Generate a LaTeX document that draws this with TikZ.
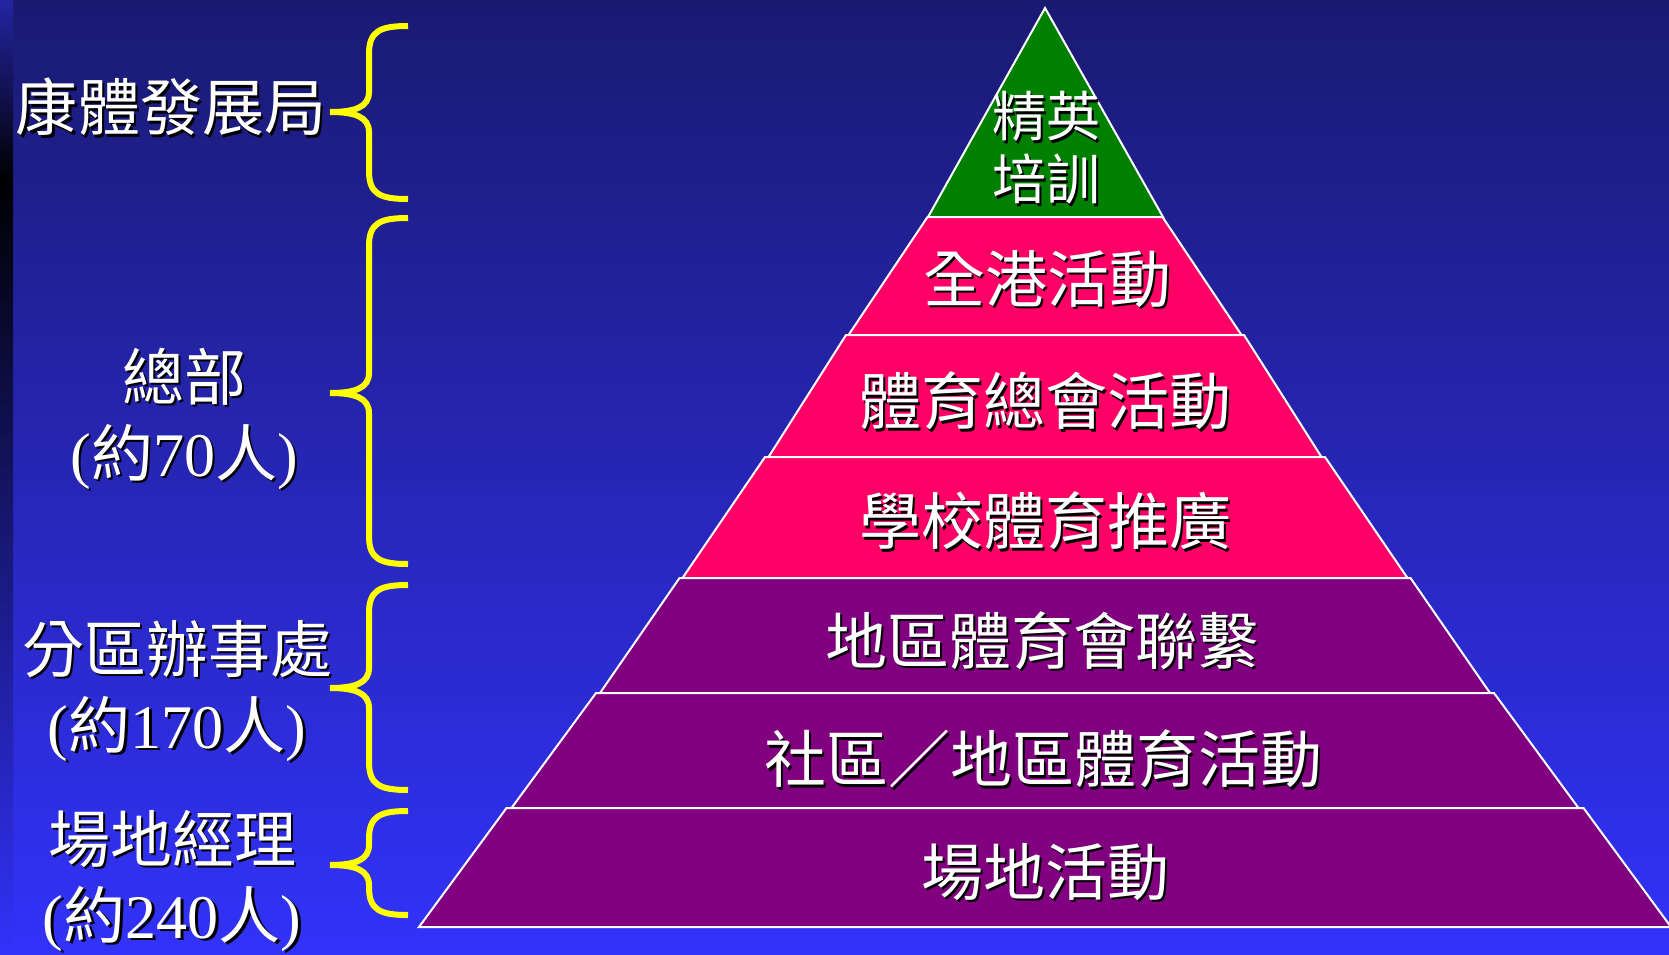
\documentclass[tikz,border=0pt]{standalone}
\usepackage{fontspec}
\setmainfont{Liberation Serif}
\newfontfamily\cjk{Noto Sans CJK TC}

\definecolor{bgtop}{HTML}{1A1A72}
\definecolor{bgbottom}{HTML}{3232FA}
\definecolor{stripblue}{HTML}{2424A4}
\definecolor{elitegreen}{HTML}{008000}
\definecolor{hotpink}{HTML}{FF0066}
\definecolor{deeppurple}{HTML}{800080}
\definecolor{braceyellow}{HTML}{FFFF00}

\newcommand{\sh}[1]{\makebox[0pt][l]{\hspace{2.5pt}\raisebox{-2.5pt}{\color{black}#1}}#1}
\newcommand{\zh}[1]{{\cjk #1}}

\tikzset{
  layer/.style={draw=white, line width=2pt},
  lbl/.style={text=white, inner sep=0pt, align=center, font=\cjk\fontsize{62}{76}\selectfont},
  side/.style={text=white, inner sep=0pt, align=center, font=\fontsize{62}{76}\selectfont},
  brace line/.style={draw=braceyellow, line width=6pt}
}

% top, tip, bottom
\newcommand{\ybrace}[3]{%
  \draw[brace line] (408,#1) .. controls (380,#1) and (369,#1+5) .. (369,#1+28)
    -- (369,#2-20) .. controls (369,#2-5) and (355,#2) .. (330,#2)
    .. controls (355,#2) and (369,#2+5) .. (369,#2+20)
    -- (369,#3-28) .. controls (369,#3-5) and (380,#3) .. (408,#3);
}

\begin{document}
\begin{tikzpicture}[x=1pt,y=-1pt]
  \useasboundingbox (0,0) rectangle (1669,954);
  \shade[top color=bgtop, bottom color=bgbottom] (0,0) rectangle (1669,954);
  \shade[top color=stripblue, bottom color=black] (0,0) rectangle (13,180);
  \shade[top color=black, bottom color=bgbottom] (0,180) rectangle (13,954);

  % pyramid, top to bottom
  \coordinate (apex) at (1045,8);
  \filldraw[layer, fill=elitegreen] (apex) -- (1163,217) -- (928,217) -- cycle;
  \foreach \c/\ya/\yb/\wa/\wb in {hotpink/217/335/117.5/196.5, hotpink/335/457/199/276.5,
      hotpink/457/578/280/362.5, deeppurple/578/693/365.5/445,
      deeppurple/693/808/449/533.5, deeppurple/808/927/538.5/626}
    \filldraw[layer, fill=\c] (1045-\wa,\ya) -- (1045+\wa,\ya) -- (1045+\wb,\yb) -- (1045-\wb,\yb) -- cycle;

  \node[lbl, font=\cjk\fontsize{54}{63}\selectfont] (elite) at (1046,149) {\sh{精英}\\\sh{培訓}};
  \node[lbl] (allhk) at (1047,280) {\sh{全港活動}};
  \node[lbl] (assoc) at (1045,402) {\sh{體育總會活動}};
  \node[lbl] (school) at (1045,522) {\sh{學校體育推廣}};
  \node[lbl] (district) at (1042,642) {\sh{地區體育會聯繫}};
  \node[lbl] (community) at (1043,760) {\sh{社區／地區體育活動}};
  \node[lbl] (venue) at (1045,873) {\sh{場地活動}};

  \node[side] (lcsd) at (171,108) {\sh{\zh{康體發展局}}};
  \node[side] (hq) at (184,420) {\sh{\zh{總部}}\\\sh{(\zh{約}70\zh{人})}};
  \node[side] (office) at (177,692) {\sh{\zh{分區辦事處}}\\\sh{(\zh{約}170\zh{人})}};
  \node[side] (manager) at (172,882) {\sh{\zh{場地經理}}\\\sh{(\zh{約}240\zh{人})}};

  \ybrace{26}{112}{199}
  \ybrace{218}{393}{564}
  \ybrace{585}{688}{790}
  \ybrace{811}{865}{915}
\end{tikzpicture}
\end{document}
